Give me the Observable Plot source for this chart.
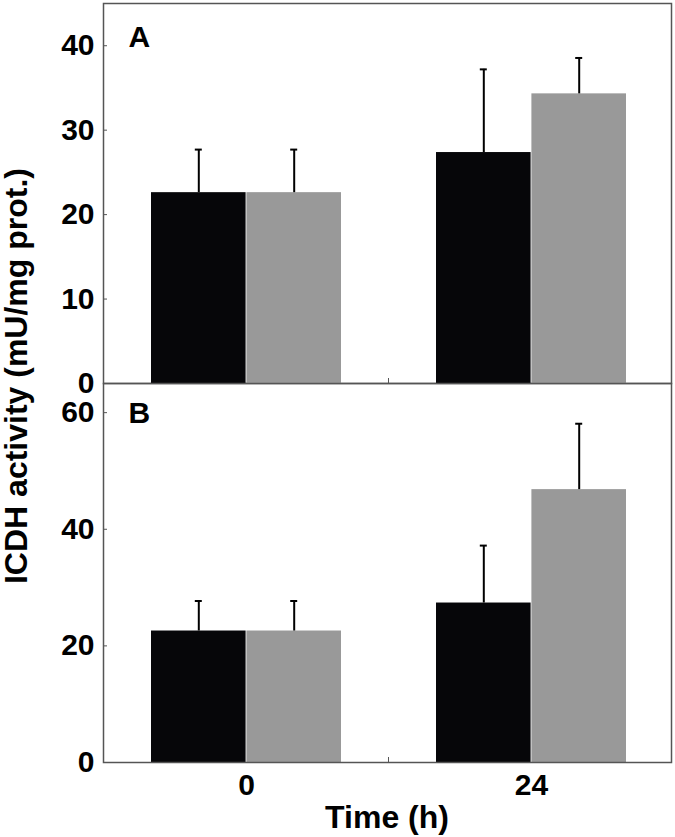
<!DOCTYPE html>
<html>
<head>
<meta charset="utf-8">
<script src="https://cdn.jsdelivr.net/npm/d3@7"></script>
<script src="https://cdn.jsdelivr.net/npm/@observablehq/plot@0.6"></script>
<style>
  html, body { margin: 0; padding: 0; background: #fff; }
  #wrap { position: relative; width: 675px; height: 837px; font-family: "Liberation Sans", Arial, Helvetica, sans-serif; }
  .panel { position: absolute; left: 0; }
  #ytitle { position: absolute; width: 600px; height: 32px; line-height: 32px; left: -284px; top: 360px;
    transform: rotate(-90deg); transform-origin: 50% 50%; text-align: center; font-size: 32px; font-weight: bold; color: #000; white-space: nowrap; }
  #xtitle { position: absolute; left: 103px; width: 568px; top: 801px; height: 32px; line-height: 32px;
    text-align: center; font-size: 32px; font-weight: bold; color: #000; }
</style>
</head>
<body>
<div id="wrap">
  <div id="panelB" class="panel" style="top:380px"></div>
  <div id="panelA" class="panel" style="top:0px"></div>
  <div id="ytitle">ICDH activity (mU/mg prot.)</div>
  <div id="xtitle">Time (h)</div>
</div>
<script>
// ---- data ----
const times = ["0", "24"];
const seriesNames = ["black", "gray"];
const seriesColors = ["#060609", "#999999"];

// Panel A
const aBlack = [22.6, 27.35];
const aBlackErr = [5.1, 9.85];
const aGray = [22.6, 34.3];
const aGrayErr = [5.1, 4.25];
const aTicks = [0, 10, 20, 30, 40];
const aDomain = [0, 45];

// Panel B
const bBlack = [22.55, 27.35];
const bBlackErr = [5.15, 9.85];
const bGray = [22.55, 46.8];
const bGrayErr = [5.15, 11.3];
const bTicks = [0, 20, 40, 60];
const bDomain = [0, 65];

function rows(black, blackErr, gray, grayErr) {
  const out = [];
  times.forEach((t, i) => {
    out.push({time: t, series: "black", value: black[i], err: blackErr[i]});
    out.push({time: t, series: "gray", value: gray[i], err: grayErr[i]});
  });
  return out;
}

const FONT = '"Liberation Sans", Arial, Helvetica, sans-serif';
const frameColor = "#555";
const halfBand = 95.4;   // half of the group band width
const qOff = 47.7;       // offset of bar centre from group centre
const capHalf = 3.9;

function midTick() {
  return (index, scales, values, dims) => {
    const x = scales.x;
    const mid = x(times[1]) - (x.step() - x.bandwidth()) / 2;
    const y0 = dims.height - dims.marginBottom;
    const g = d3.create("svg:g");
    g.append("line").attr("x1", mid).attr("x2", mid)
      .attr("y1", y0).attr("y2", y0 - 5)
      .attr("stroke", frameColor).attr("stroke-width", 1);
    return g.node();
  };
}

function panel({data, domain, ticks, height, marginTop, marginBottom, letter, letterDy, showX}) {
  const black = data.filter(d => d.series === "black");
  const gray = data.filter(d => d.series === "gray");
  return Plot.plot({
    width: 675,
    height,
    marginLeft: 103,
    marginRight: 4,
    marginTop,
    marginBottom,
    style: {background: "transparent", overflow: "visible", fontFamily: FONT, fontSize: "30px", fontWeight: "bold", color: "#000"},
    x: {type: "band", domain: times, paddingInner: 0.3326, paddingOuter: 0.160, align: 0.515, axis: null, label: null},
    y: {domain, axis: null, label: null},
    marks: [
      Plot.barY(black, {x: "time", y: "value", fill: seriesColors[0], insetRight: halfBand}),
      Plot.barY(gray, {x: "time", y: "value", fill: seriesColors[1], insetLeft: halfBand}),
      Plot.ruleX(black, {x: "time", y1: "value", y2: d => d.value + d.err, dx: -qOff, stroke: "#000", strokeWidth: 2}),
      Plot.ruleX(gray, {x: "time", y1: "value", y2: d => d.value + d.err, dx: qOff, stroke: "#000", strokeWidth: 2}),
      Plot.tickY(black, {x: "time", y: d => d.value + d.err, dx: -qOff, insetLeft: halfBand - capHalf, insetRight: halfBand - capHalf, stroke: "#000", strokeWidth: 2}),
      Plot.tickY(gray, {x: "time", y: d => d.value + d.err, dx: qOff, insetLeft: halfBand - capHalf, insetRight: halfBand - capHalf, stroke: "#000", strokeWidth: 2}),
      Plot.tickY(ticks, {y: d => d, insetRight: 564, stroke: frameColor, strokeWidth: 1}),
      Plot.axisY(ticks, {anchor: "left", label: null, tickSize: 0, tickPadding: 9, tickFormat: d => String(d), fontSize: 30, fontWeight: "bold", fill: "#000"}),
      showX ? Plot.axisX({anchor: "bottom", label: null, tickSize: 0, tickPadding: 11, fontSize: 30, fontWeight: "bold", fill: "#000"}) : null,
      midTick(),
      Plot.frame({stroke: frameColor, strokeWidth: 1.5}),
      Plot.text([letter], {frameAnchor: "top-left", dx: 25, dy: letterDy, text: d => d, fontSize: 30, fontWeight: "bold", fill: "#000", lineAnchor: "top"})
    ]
  });
}

const plotA = panel({data: rows(aBlack, aBlackErr, aGray, aGrayErr), domain: aDomain, ticks: aTicks, height: 386, marginTop: 3, marginBottom: 3, letter: "A", letterDy: 22, showX: false});
const plotB = panel({data: rows(bBlack, bBlackErr, bGray, bGrayErr), domain: bDomain, ticks: bTicks, height: 424, marginTop: 3, marginBottom: 42, letter: "B", letterDy: 18, showX: true});
document.getElementById("panelA").append(plotA);
document.getElementById("panelB").append(plotB);
</script>
</body>
</html>
